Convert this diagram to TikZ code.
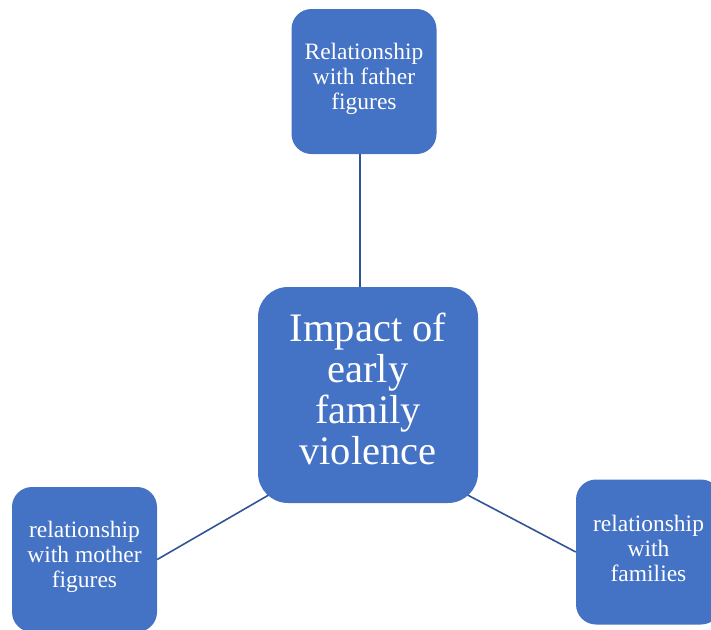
\documentclass[tikz,border=0pt]{standalone}
\usepackage{fontspec}
\setmainfont{Liberation Serif}
\usetikzlibrary{backgrounds}

\definecolor{boxblue}{HTML}{4472C4}
\definecolor{linkblue}{HTML}{2F5597}

\tikzset{
    topic/.style={fill=boxblue, text=white, align=center, inner sep=0pt,
        minimum width=145pt, minimum height=145pt, rounded corners=20pt,
        text depth=10pt, font=\fontsize{23.5}{25}\selectfont},
    hub/.style={topic, minimum width=220pt, minimum height=216pt,
        rounded corners=30pt, text depth=12pt,
        font=\fontsize{40.5}{41}\selectfont},
    link/.style={draw=linkblue, line width=1.6pt}
}

\begin{document}
\begin{tikzpicture}[x=1pt, y=-1pt]

    %% Background
    \useasboundingbox (0,0) rectangle (711,629);

    % Centre
    \node[hub] (impact) at (368,395) {Impact of\\early\\family\\violence};

    % Outer boxes
    \node[topic] (father) at (364,81.5) {Relationship\\with father\\figures};
    \node[topic] (mother) at (84.5,559.5) {relationship\\with mother\\figures};
    \node[topic, text depth=8pt] (families) at (648.5,552) {relationship\\with\\families};

    % Links
    \begin{scope}[on background layer]
        \draw[link] ([xshift=-4pt]father.south) -- ([xshift=-8pt]impact.north);
        \draw[link] (mother.east) -- ([shift={(14,-10)}]impact.south west);
        \draw[link] ([shift={(-14,-10)}]impact.south east) -- (families.west);
    \end{scope}

\end{tikzpicture}
\end{document}
